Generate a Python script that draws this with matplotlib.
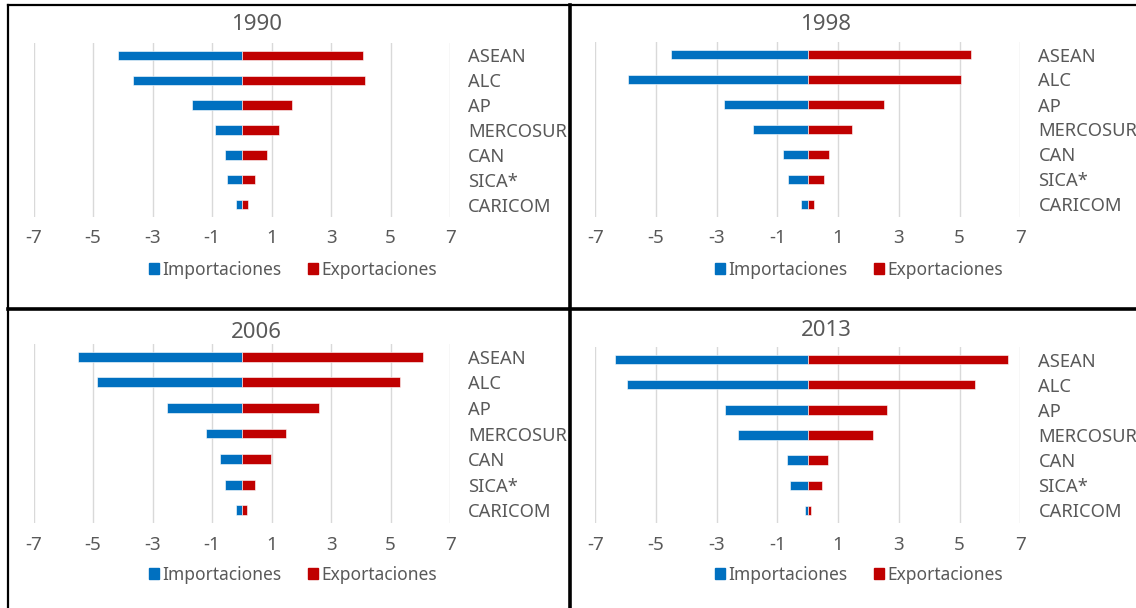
import numpy as np
import matplotlib.pyplot as plt
from matplotlib.lines import Line2D
from matplotlib.patches import Patch

plt.rcParams['font.family'] = ['Noto Sans', 'DejaVu Sans']

# ---------------------------------------------------------
# datos
# ---------------------------------------------------------
bloques = ["ASEAN", "ALC", "AP", "MERCOSUR", "CAN", "SICA*", "CARICOM"]
anios = ["1990", "1998", "2006", "2013"]

imp_1990 = [-4.17, -3.66, -1.67, -0.90, -0.55, -0.51, -0.21]
exp_1990 = [4.07, 4.14, 1.69, 1.26, 0.83, 0.44, 0.22]

imp_1998 = [-4.51, -5.92, -2.77, -1.80, -0.82, -0.65, -0.23]
exp_1998 = [5.37, 5.03, 2.50, 1.47, 0.70, 0.53, 0.19]

imp_2006 = [-5.51, -4.87, -2.53, -1.20, -0.73, -0.55, -0.21]
exp_2006 = [6.10, 5.32, 2.60, 1.48, 0.97, 0.44, 0.18]

imp_2013 = [-6.34, -5.96, -2.74, -2.31, -0.70, -0.58, -0.11]
exp_2013 = [6.60, 5.50, 2.62, 2.14, 0.66, 0.48, 0.11]

importaciones = [imp_1990, imp_1998, imp_2006, imp_2013]
exportaciones = [exp_1990, exp_1998, exp_2006, exp_2013]
xticks = [-7, -5, -3, -1, 1, 3, 5, 7]

# ---------------------------------------------------------
# layout (pixeles)
# ---------------------------------------------------------
W, H = 1136, 608
fig = plt.figure(figsize=(W / 100, H / 100), dpi=100)

# (left, right, top, bottom) del area de graficos
areas = [
    (33.5, 450.2, 43, 217),
    (595.3, 1020.4, 42, 217),
    (33.5, 450.2, 344, 523),
    (595.3, 1020.4, 347, 523),
]
titulos_pos = [(257, 25), (826, 25), (256, 332), (826, 330)]
leyenda_pos = [(293, 270), (859, 270), (293, 575), (859, 575)]

azul = "#0070C0"
rojo = "#C00000"
gris = "#595959"

for i, (l, r, t, b) in enumerate(areas):
    ax = fig.add_axes([l / W, 1 - b / H, (r - l) / W, (b - t) / H])
    y = np.arange(len(bloques))
    ax.barh(y, importaciones[i], height=0.38, color=azul,
            edgecolor='white', linewidth=0.4, label="Importaciones", zorder=3)
    ax.barh(y, exportaciones[i], height=0.38, color=rojo,
            edgecolor='white', linewidth=0.4, label="Exportaciones", zorder=3)

    ax.set_xlim(-7, 7)
    ax.set_ylim(len(bloques) - 0.5, -0.5)
    ax.set_xticks(xticks)
    ax.set_xticklabels([str(v) for v in xticks])
    ax.xaxis.grid(True, color="#D9D9D9", linewidth=1)
    ax.set_axisbelow(True)

    ax.yaxis.tick_right()
    ax.set_yticks(y)
    ax.set_yticklabels(bloques)
    ax.tick_params(axis='y', length=0, pad=13, labelsize=13.2, labelcolor=gris)
    ax.tick_params(axis='x', length=0, pad=9, labelsize=13.5, labelcolor=gris)
    for s in ax.spines.values():
        s.set_visible(False)

    tx, ty = titulos_pos[i]
    fig.text(tx / W, 1 - ty / H, anios[i], ha='center', va='center',
             fontsize=16, color=gris)

    lx, ly = leyenda_pos[i]
    handles = [Patch(color=azul, label="Importaciones"),
               Patch(color=rojo, label="Exportaciones")]
    fig.legend(handles=handles, loc='center', ncol=2,
               bbox_to_anchor=(lx / W, 1 - ly / H), frameon=False,
               fontsize=12.5, labelcolor=gris, handlelength=0.6,
               handleheight=0.6, handletextpad=0.2, columnspacing=1.5,
               borderpad=0)

# ---------------------------------------------------------
# marcos
# ---------------------------------------------------------
def linea(x0, y0, x1, y1, lw):
    fig.add_artist(Line2D([x0 / W, x1 / W], [1 - y0 / H, 1 - y1 / H],
                          color='black', linewidth=lw,
                          transform=fig.transFigure))

linea(8, 5, W, 5, 1.6)
linea(8, 5, 8, H, 1.6)
linea(569.5, 5, 569.5, H, 2.6)
linea(8, 309, W, 309, 2.6)

plt.savefig("out.png", dpi=100)
